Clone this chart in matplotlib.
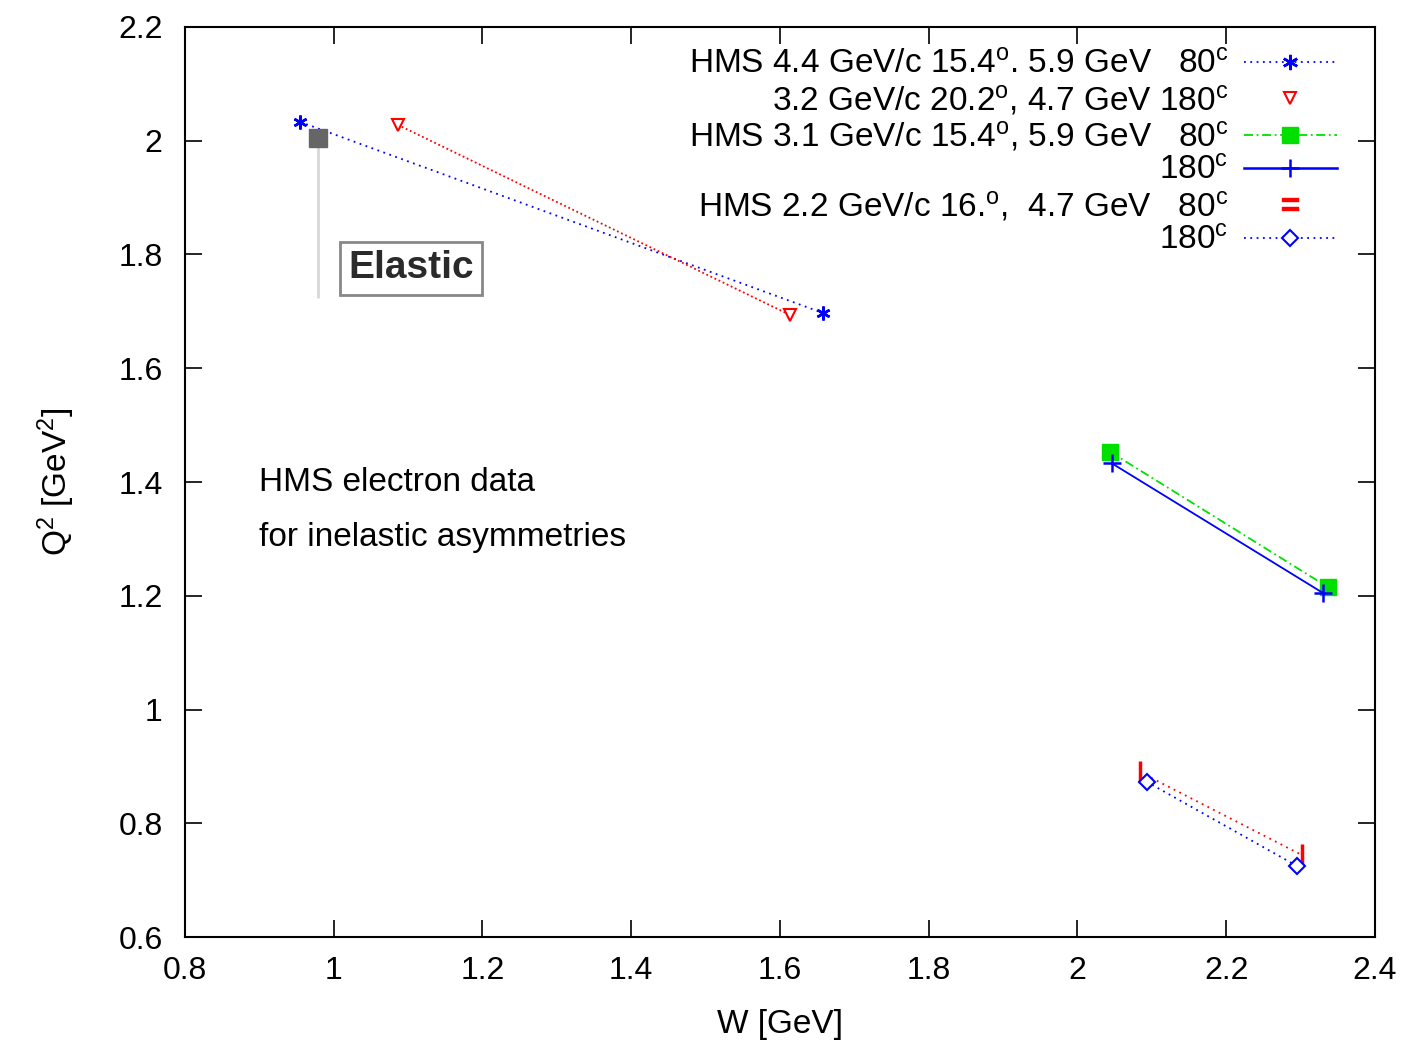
import matplotlib
matplotlib.use("Agg")
import matplotlib.pyplot as plt
from matplotlib.lines import Line2D

plt.rcParams["font.family"] = ["Liberation Sans", "DejaVu Sans"]
plt.rcParams["mathtext.fontset"] = "custom"
plt.rcParams["mathtext.rm"] = "Liberation Sans"
plt.rcParams["mathtext.it"] = "Liberation Sans"

# W and Q^2 at the two ends of each kinematic setting
w_44_80 = [0.955, 1.658]
q2_44_80 = [2.033, 1.697]
w_32_180 = [1.086, 1.613]
q2_32_180 = [2.028, 1.694]
w_31_80 = [2.044, 2.337]
q2_31_80 = [1.453, 1.215]
w_31_180 = [2.046, 2.330]
q2_31_180 = [1.433, 1.205]
w_22_80 = [2.084, 2.302]
q2_22_80 = [0.890, 0.744]
w_22_180 = [2.093, 2.295]
q2_22_180 = [0.873, 0.725]

elastic_w = 0.979
elastic_q2 = 2.005
elastic_label_q2 = 1.724

labels = [
    r"HMS 4.4 GeV/c 15.4$^\mathrm{o}$. 5.9 GeV   80$^\mathrm{c}$",
    r"3.2 GeV/c 20.2$^\mathrm{o}$, 4.7 GeV 180$^\mathrm{c}$",
    r"HMS 3.1 GeV/c 15.4$^\mathrm{o}$, 5.9 GeV   80$^\mathrm{c}$",
    r"180$^\mathrm{c}$",
    r"HMS 2.2 GeV/c 16.$^\mathrm{o}$,  4.7 GeV   80$^\mathrm{c}$",
    r"180$^\mathrm{c}$",
]

blue = "#0000ff"
red = "#ff0000"
green = "#00e000"
asterisk = (6, 2, 0)

fig = plt.figure(figsize=(14.25, 10.45), dpi=100)
ax = fig.add_axes([0.1298, 0.1033, 0.8351, 0.8709])

lw = 1.3
ax.plot(w_44_80, q2_44_80, color=blue, ls=(0, (1, 2.5)), lw=lw,
        marker=asterisk, ms=10, mew=1.8)
ax.plot(w_32_180, q2_32_180, color=red, ls=(0, (1, 1.5)), lw=lw,
        marker="v", ms=9, mfc="white", mew=1.5)
ax.plot(w_31_80, q2_31_80, color=green, ls=(0, (5, 2, 1, 2)), lw=lw,
        marker="s", ms=11)
ax.plot(w_31_180, q2_31_180, color=blue, ls="-", lw=lw,
        marker="+", ms=13, mew=1.8)
ax.plot(w_22_80, q2_22_80, color=red, ls=(0, (1, 2.5)), lw=lw,
        marker="|", ms=16, mew=2.5)
ax.plot(w_22_180, q2_22_180, color=blue, ls=(0, (1, 2.5)), lw=lw,
        marker="D", ms=8, mfc="white", mew=1.5)

# elastic point with its label
ax.vlines(elastic_w, elastic_label_q2, elastic_q2, color="#d8d8d8", lw=2)
ax.plot([elastic_w], [elastic_q2], marker="s", ms=13, color="#666666")
ax.text(1.104, 1.776, "Elastic", fontsize=28, color="#2a2a2a",
        ha="center", va="center", fontweight="semibold",
        bbox=dict(boxstyle="square,pad=0.22", fc="white", ec="#888888", lw=2))

ax.text(0.9, 1.400, "HMS electron data", fontsize=24, va="center")
ax.text(0.9, 1.302, "for inelastic asymmetries", fontsize=24, va="center")

handles = [
    Line2D([], [], color=blue, ls=(0, (1, 2.5)), lw=lw, marker=asterisk, ms=11, mew=1.8),
    Line2D([], [], color=red, ls="none", marker="v", ms=9, mfc="white", mew=1.5),
    Line2D([], [], color=green, ls=(0, (5, 2, 1, 2)), lw=lw, marker="s", ms=11),
    Line2D([], [], color=blue, ls="-", lw=lw * 1.4, marker="+", ms=13, mew=1.8),
    Line2D([], [], color=red, ls="none", marker="$=$", ms=12),
    Line2D([], [], color=blue, ls=(0, (1, 2.5)), lw=lw, marker="D", ms=8, mfc="white", mew=1.5),
]
ax.legend(handles, labels, loc="upper right", bbox_to_anchor=(0.968, 0.975),
          markerfirst=False, frameon=False, fontsize=24, handlelength=2.8,
          handletextpad=0.45, labelspacing=0.07, borderpad=0, borderaxespad=0)

ax.set_xlim(0.8, 2.4)
ax.set_ylim(0.6, 2.2)
ax.set_xticks([0.8, 1.0, 1.2, 1.4, 1.6, 1.8, 2.0, 2.2, 2.4])
ax.set_xticklabels(["0.8", "1", "1.2", "1.4", "1.6", "1.8", "2", "2.2", "2.4"])
ax.set_yticks([0.6, 0.8, 1.0, 1.2, 1.4, 1.6, 1.8, 2.0, 2.2])
ax.set_yticklabels(["0.6", "0.8", "1", "1.2", "1.4", "1.6", "1.8", "2", "2.2"])
ax.tick_params(direction="in", length=12, width=1.2, labelsize=23, pad=14,
               top=True, right=True)
ax.tick_params(axis="y", pad=16)
for s in ax.spines.values():
    s.set_linewidth(1.5)

ax.set_xlabel("W [GeV]", fontsize=24, labelpad=16)
ax.set_ylabel(r"Q$^2$ [GeV$^2$]", fontsize=24, labelpad=30)

fig.savefig("out.png", dpi=100)
